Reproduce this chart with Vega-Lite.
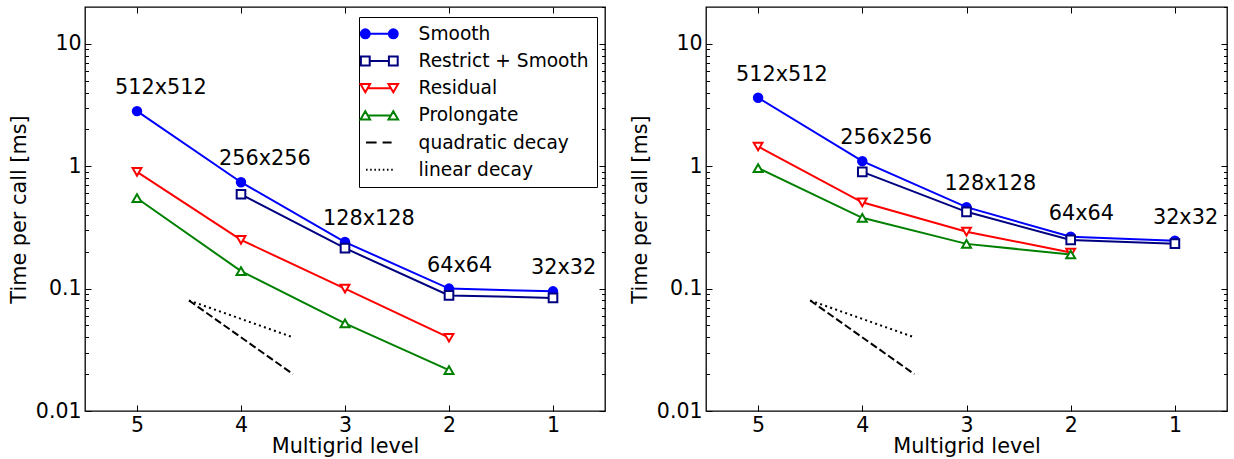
{
  "$schema": "https://vega.github.io/schema/vega-lite/v6.json",
  "padding": {"left": 7, "top": 5, "right": 5, "bottom": 5},
  "spacing": 21,
  "config": {
    "font": "DejaVu Sans",
    "view": {"stroke": "black", "strokeWidth": 1.3},
    "axis": {
      "labelFont": "DejaVu Sans", "labelFontSize": 20.5, "labelColor": "black",
      "titleFont": "DejaVu Sans", "titleFontSize": 20.8, "titleFontWeight": "normal", "titleColor": "black",
      "tickColor": "black", "tickWidth": 1, "grid": false, "domain": false,
      "labelFlush": false, "labelOverlap": false, "labelBound": false
    }
  },
  "datasets": {
    "decay": [
      {"series": "quadratic decay", "level": 4.5, "t": 0.08},
      {"series": "quadratic decay", "level": 3.5, "t": 0.02},
      {"series": "linear decay", "level": 4.5, "t": 0.08},
      {"series": "linear decay", "level": 3.5, "t": 0.04}
    ],
    "legend": [
      {"series": "Smooth"}, {"series": "Restrict + Smooth"}, {"series": "Residual"},
      {"series": "Prolongate"}, {"series": "quadratic decay"}, {"series": "linear decay"}
    ],
    "left": [
      {"series": "Smooth", "level": 5, "t": 2.82, "label": "512x512"},
      {"series": "Smooth", "level": 4, "t": 0.74, "label": "256x256"},
      {"series": "Smooth", "level": 3, "t": 0.24, "label": "128x128"},
      {"series": "Smooth", "level": 2, "t": 0.1, "label": "64x64"},
      {"series": "Smooth", "level": 1, "t": 0.095, "label": "32x32"},
      {"series": "Restrict + Smooth", "level": 4, "t": 0.59},
      {"series": "Restrict + Smooth", "level": 3, "t": 0.214},
      {"series": "Restrict + Smooth", "level": 2, "t": 0.088},
      {"series": "Restrict + Smooth", "level": 1, "t": 0.084},
      {"series": "Residual", "level": 5, "t": 0.9},
      {"series": "Residual", "level": 4, "t": 0.25},
      {"series": "Residual", "level": 3, "t": 0.1},
      {"series": "Residual", "level": 2, "t": 0.0397},
      {"series": "Prolongate", "level": 5, "t": 0.548},
      {"series": "Prolongate", "level": 4, "t": 0.139},
      {"series": "Prolongate", "level": 3, "t": 0.052},
      {"series": "Prolongate", "level": 2, "t": 0.0216}
    ],
    "right": [
      {"series": "Smooth", "level": 5, "t": 3.63, "label": "512x512"},
      {"series": "Smooth", "level": 4, "t": 1.1, "label": "256x256"},
      {"series": "Smooth", "level": 3, "t": 0.463, "label": "128x128"},
      {"series": "Smooth", "level": 2, "t": 0.265, "label": "64x64"},
      {"series": "Smooth", "level": 1, "t": 0.246, "label": "32x32"},
      {"series": "Restrict + Smooth", "level": 4, "t": 0.9},
      {"series": "Restrict + Smooth", "level": 3, "t": 0.424},
      {"series": "Restrict + Smooth", "level": 2, "t": 0.25},
      {"series": "Restrict + Smooth", "level": 1, "t": 0.233},
      {"series": "Residual", "level": 5, "t": 1.45},
      {"series": "Residual", "level": 4, "t": 0.507},
      {"series": "Residual", "level": 3, "t": 0.292},
      {"series": "Residual", "level": 2, "t": 0.197},
      {"series": "Prolongate", "level": 5, "t": 0.965},
      {"series": "Prolongate", "level": 4, "t": 0.379},
      {"series": "Prolongate", "level": 3, "t": 0.232},
      {"series": "Prolongate", "level": 2, "t": 0.19}
    ]
  },
  "hconcat": [
    {
      "width": 520, "height": 404,
      "layer": [
        {
          "data": {"name": "decay"},
          "mark": {"type": "line", "strokeWidth": 2, "strokeCap": "butt"},
          "encoding": {
            "x": {"field": "level", "type": "quantitative", "scale": {"domain": [5.5, 0.5], "nice": false, "zero": false}, "axis": null},
            "y": {"field": "t", "type": "quantitative", "scale": {"type": "log", "domain": [0.01, 20], "nice": false}, "axis": null},
            "color": {"field": "series", "type": "nominal", "scale": {"domain": ["Smooth", "Restrict + Smooth", "Residual", "Prolongate", "quadratic decay", "linear decay"], "range": ["#0000ff", "#000080", "#ff0000", "#008000", "black", "black"]}, "legend": null},
            "strokeDash": {"field": "series", "type": "nominal", "scale": {"domain": ["quadratic decay", "linear decay"], "range": [[7.4, 3.2], [2, 3.3]]}, "legend": null}
          }
        },
        {
          "data": {"name": "left"},
          "mark": {"type": "line", "strokeWidth": 2},
          "encoding": {
            "x": {"field": "level", "type": "quantitative", "scale": {"domain": [5.5, 0.5], "nice": false, "zero": false},
                  "axis": {"orient": "bottom", "values": [5, 4, 3, 2, 1], "format": "d", "tickSize": -6, "labelPadding": 10, "title": "Multigrid level", "titlePadding": 1}},
            "y": {"field": "t", "type": "quantitative", "scale": {"type": "log", "domain": [0.01, 20], "nice": false},
                  "axis": {"orient": "left", "values": [0.01, 0.02, 0.03, 0.04, 0.05, 0.06, 0.07, 0.08, 0.09, 0.1, 0.2, 0.3, 0.4, 0.5, 0.6, 0.7, 0.8, 0.9, 1, 2, 3, 4, 5, 6, 7, 8, 9, 10],
                           "labelExpr": "datum.value == 0.01 ? '0.01' : datum.value == 0.1 ? '0.1' : datum.value == 1 ? '1' : datum.value == 10 ? '10' : ''",
                           "tickSize": {"condition": {"test": "datum.value == 0.01 || datum.value == 0.1 || datum.value == 1 || datum.value == 10", "value": -6}, "value": -3.5},
                           "labelPadding": 10, "title": "Time per call [ms]", "titlePadding": 6}},
            "color": {"field": "series", "type": "nominal", "scale": {"domain": ["Smooth", "Restrict + Smooth", "Residual", "Prolongate", "quadratic decay", "linear decay"], "range": ["#0000ff", "#000080", "#ff0000", "#008000", "black", "black"]}, "legend": null}
          }
        },
        {
          "data": {"name": "left"},
          "mark": {"type": "point", "strokeWidth": 2, "opacity": 1},
          "encoding": {
            "x": {"field": "level", "type": "quantitative", "scale": {"domain": [5.5, 0.5], "nice": false, "zero": false},
                  "axis": {"orient": "top", "values": [5, 4, 3, 2, 1], "tickSize": -6, "labels": false, "title": null}},
            "y": {"field": "t", "type": "quantitative", "scale": {"type": "log", "domain": [0.01, 20], "nice": false},
                  "axis": {"orient": "right", "values": [0.01, 0.02, 0.03, 0.04, 0.05, 0.06, 0.07, 0.08, 0.09, 0.1, 0.2, 0.3, 0.4, 0.5, 0.6, 0.7, 0.8, 0.9, 1, 2, 3, 4, 5, 6, 7, 8, 9, 10, 20],
                           "tickSize": {"condition": {"test": "datum.value == 0.01 || datum.value == 0.1 || datum.value == 1 || datum.value == 10", "value": -6}, "value": -3.5},
                           "labels": false, "title": null}},
            "stroke": {"field": "series", "type": "nominal", "scale": {"domain": ["Smooth", "Restrict + Smooth", "Residual", "Prolongate"], "range": ["#0000ff", "#000080", "#ff0000", "#008000"]}, "legend": null},
            "fill": {"field": "series", "type": "nominal", "scale": {"domain": ["Smooth", "Restrict + Smooth", "Residual", "Prolongate"], "range": ["#0000ff", "white", "white", "white"]}, "legend": null},
            "shape": {"field": "series", "type": "nominal", "scale": {"domain": ["Smooth", "Restrict + Smooth", "Residual", "Prolongate"], "range": ["circle", "square", "triangle-down", "triangle-up"]}, "legend": null},
            "size": {"field": "series", "type": "nominal", "scale": {"domain": ["Smooth", "Restrict + Smooth", "Residual", "Prolongate"], "range": [72, 80, 96, 96]}, "legend": null}
          }
        },
        {
          "data": {"name": "left"},
          "transform": [{"filter": "isValid(datum.label)"}],
          "mark": {"type": "text", "align": "left", "baseline": "middle", "dx": -22, "dy": -23, "fontSize": 20.8, "font": "DejaVu Sans", "color": "black"},
          "encoding": {
            "x": {"field": "level", "type": "quantitative", "scale": {"domain": [5.5, 0.5], "nice": false, "zero": false}, "axis": null},
            "y": {"field": "t", "type": "quantitative", "scale": {"type": "log", "domain": [0.01, 20], "nice": false}, "axis": null},
            "text": {"field": "label", "type": "nominal"}
          }
        },
        {
          "data": {"name": "legend"},
          "transform": [{"filter": "false"}],
          "mark": {"type": "point", "filled": true, "strokeWidth": 2, "opacity": 1},
          "encoding": {
            "shape": {"field": "series", "type": "nominal",
              "scale": {"domain": ["Smooth", "Restrict + Smooth", "Residual", "Prolongate", "quadratic decay", "linear decay"],
                        "range": [
                          "M-2.31,0A0.56,0.56 0 1,0 -1.19,0A0.56,0.56 0 1,0 -2.31,0ZM1.19,0A0.56,0.56 0 1,0 2.31,0A0.56,0.56 0 1,0 1.19,0ZM-1.75,0H1.75",
                          "M-2.3,-0.55H-1.2V0.55H-2.3ZM1.2,-0.55H2.3V0.55H1.2ZM-1.2,0H1.2",
                          "M-2.35,-0.51L-1.15,-0.51L-1.75,0.51ZM1.15,-0.51L2.35,-0.51L1.75,0.51ZM-1.45,0H1.45",
                          "M-2.35,0.51L-1.15,0.51L-1.75,-0.51ZM1.15,0.51L2.35,0.51L1.75,-0.51ZM-1.45,0H1.45",
                          "M-1.66,0H-0.34M0.41,0H1.54",
                          "M-1.66,0h0.19M-1.14,0h0.19M-0.61,0h0.19M-0.09,0h0.19M0.44,0h0.19M0.96,0h0.19M1.49,0h0.19"
                        ]},
              "legend": {"title": null, "orient": "none", "legendX": 274, "legendY": 10, "padding": 7.5, "strokeColor": "black", "fillColor": "white", "cornerRadius": 0,
                         "labelFont": "DejaVu Sans", "labelFontSize": 18.6, "labelColor": "black", "labelLimit": 400,
                         "symbolSize": 256, "symbolStrokeWidth": 2, "symbolOpacity": 1, "symbolOffset": 3.5, "labelOffset": 30, "rowPadding": 8.2}},
            "fill": {"field": "series", "type": "nominal",
              "scale": {"domain": ["Smooth", "Restrict + Smooth", "Residual", "Prolongate", "quadratic decay", "linear decay"],
                        "range": ["#0000ff", "white", "white", "white", "transparent", "transparent"]},
              "legend": {"title": null, "orient": "none", "legendX": 274, "legendY": 10, "padding": 7.5, "strokeColor": "black", "fillColor": "white", "cornerRadius": 0,
                         "labelFont": "DejaVu Sans", "labelFontSize": 18.6, "labelColor": "black", "labelLimit": 400,
                         "symbolSize": 256, "symbolStrokeWidth": 2, "symbolOpacity": 1, "symbolOffset": 3.5, "labelOffset": 30, "rowPadding": 8.2}},
            "stroke": {"field": "series", "type": "nominal",
              "scale": {"domain": ["Smooth", "Restrict + Smooth", "Residual", "Prolongate", "quadratic decay", "linear decay"],
                        "range": ["#0000ff", "#000080", "#ff0000", "#008000", "black", "black"]},
              "legend": {"title": null, "orient": "none", "legendX": 274, "legendY": 10, "padding": 7.5, "strokeColor": "black", "fillColor": "white", "cornerRadius": 0,
                         "labelFont": "DejaVu Sans", "labelFontSize": 18.6, "labelColor": "black", "labelLimit": 400,
                         "symbolSize": 256, "symbolStrokeWidth": 2, "symbolOpacity": 1, "symbolOffset": 3.5, "labelOffset": 30, "rowPadding": 8.2}}
          }
        }
      ],
      "resolve": {"scale": {"shape": "independent", "fill": "independent", "stroke": "independent", "size": "independent"}, "axis": {"x": "independent", "y": "independent"}}
    },
    {
      "width": 521, "height": 404,
      "layer": [
        {
          "data": {"name": "decay"},
          "mark": {"type": "line", "strokeWidth": 2, "strokeCap": "butt"},
          "encoding": {
            "x": {"field": "level", "type": "quantitative", "scale": {"domain": [5.5, 0.5], "nice": false, "zero": false}, "axis": null},
            "y": {"field": "t", "type": "quantitative", "scale": {"type": "log", "domain": [0.01, 20], "nice": false}, "axis": null},
            "color": {"field": "series", "type": "nominal", "scale": {"domain": ["Smooth", "Restrict + Smooth", "Residual", "Prolongate", "quadratic decay", "linear decay"], "range": ["#0000ff", "#000080", "#ff0000", "#008000", "black", "black"]}, "legend": null},
            "strokeDash": {"field": "series", "type": "nominal", "scale": {"domain": ["quadratic decay", "linear decay"], "range": [[7.4, 3.2], [2, 3.3]]}, "legend": null}
          }
        },
        {
          "data": {"name": "right"},
          "mark": {"type": "line", "strokeWidth": 2},
          "encoding": {
            "x": {"field": "level", "type": "quantitative", "scale": {"domain": [5.5, 0.5], "nice": false, "zero": false},
                  "axis": {"orient": "bottom", "values": [5, 4, 3, 2, 1], "format": "d", "tickSize": -6, "labelPadding": 10, "title": "Multigrid level", "titlePadding": 1}},
            "y": {"field": "t", "type": "quantitative", "scale": {"type": "log", "domain": [0.01, 20], "nice": false},
                  "axis": {"orient": "left", "values": [0.01, 0.02, 0.03, 0.04, 0.05, 0.06, 0.07, 0.08, 0.09, 0.1, 0.2, 0.3, 0.4, 0.5, 0.6, 0.7, 0.8, 0.9, 1, 2, 3, 4, 5, 6, 7, 8, 9, 10],
                           "labelExpr": "datum.value == 0.01 ? '0.01' : datum.value == 0.1 ? '0.1' : datum.value == 1 ? '1' : datum.value == 10 ? '10' : ''",
                           "tickSize": {"condition": {"test": "datum.value == 0.01 || datum.value == 0.1 || datum.value == 1 || datum.value == 10", "value": -6}, "value": -3.5},
                           "labelPadding": 10, "title": "Time per call [ms]", "titlePadding": 6}},
            "color": {"field": "series", "type": "nominal", "scale": {"domain": ["Smooth", "Restrict + Smooth", "Residual", "Prolongate", "quadratic decay", "linear decay"], "range": ["#0000ff", "#000080", "#ff0000", "#008000", "black", "black"]}, "legend": null}
          }
        },
        {
          "data": {"name": "right"},
          "mark": {"type": "point", "strokeWidth": 2, "opacity": 1},
          "encoding": {
            "x": {"field": "level", "type": "quantitative", "scale": {"domain": [5.5, 0.5], "nice": false, "zero": false},
                  "axis": {"orient": "top", "values": [5, 4, 3, 2, 1], "tickSize": -6, "labels": false, "title": null}},
            "y": {"field": "t", "type": "quantitative", "scale": {"type": "log", "domain": [0.01, 20], "nice": false},
                  "axis": {"orient": "right", "values": [0.01, 0.02, 0.03, 0.04, 0.05, 0.06, 0.07, 0.08, 0.09, 0.1, 0.2, 0.3, 0.4, 0.5, 0.6, 0.7, 0.8, 0.9, 1, 2, 3, 4, 5, 6, 7, 8, 9, 10, 20],
                           "tickSize": {"condition": {"test": "datum.value == 0.01 || datum.value == 0.1 || datum.value == 1 || datum.value == 10", "value": -6}, "value": -3.5},
                           "labels": false, "title": null}},
            "stroke": {"field": "series", "type": "nominal", "scale": {"domain": ["Smooth", "Restrict + Smooth", "Residual", "Prolongate"], "range": ["#0000ff", "#000080", "#ff0000", "#008000"]}, "legend": null},
            "fill": {"field": "series", "type": "nominal", "scale": {"domain": ["Smooth", "Restrict + Smooth", "Residual", "Prolongate"], "range": ["#0000ff", "white", "white", "white"]}, "legend": null},
            "shape": {"field": "series", "type": "nominal", "scale": {"domain": ["Smooth", "Restrict + Smooth", "Residual", "Prolongate"], "range": ["circle", "square", "triangle-down", "triangle-up"]}, "legend": null},
            "size": {"field": "series", "type": "nominal", "scale": {"domain": ["Smooth", "Restrict + Smooth", "Residual", "Prolongate"], "range": [72, 80, 96, 96]}, "legend": null}
          }
        },
        {
          "data": {"name": "right"},
          "transform": [{"filter": "isValid(datum.label)"}],
          "mark": {"type": "text", "align": "left", "baseline": "middle", "dx": -22, "dy": -23, "fontSize": 20.8, "font": "DejaVu Sans", "color": "black"},
          "encoding": {
            "x": {"field": "level", "type": "quantitative", "scale": {"domain": [5.5, 0.5], "nice": false, "zero": false}, "axis": null},
            "y": {"field": "t", "type": "quantitative", "scale": {"type": "log", "domain": [0.01, 20], "nice": false}, "axis": null},
            "text": {"field": "label", "type": "nominal"}
          }
        }
      ],
      "resolve": {"scale": {"shape": "independent", "fill": "independent", "stroke": "independent", "size": "independent"}, "axis": {"x": "independent", "y": "independent"}}
    }
  ]
}
